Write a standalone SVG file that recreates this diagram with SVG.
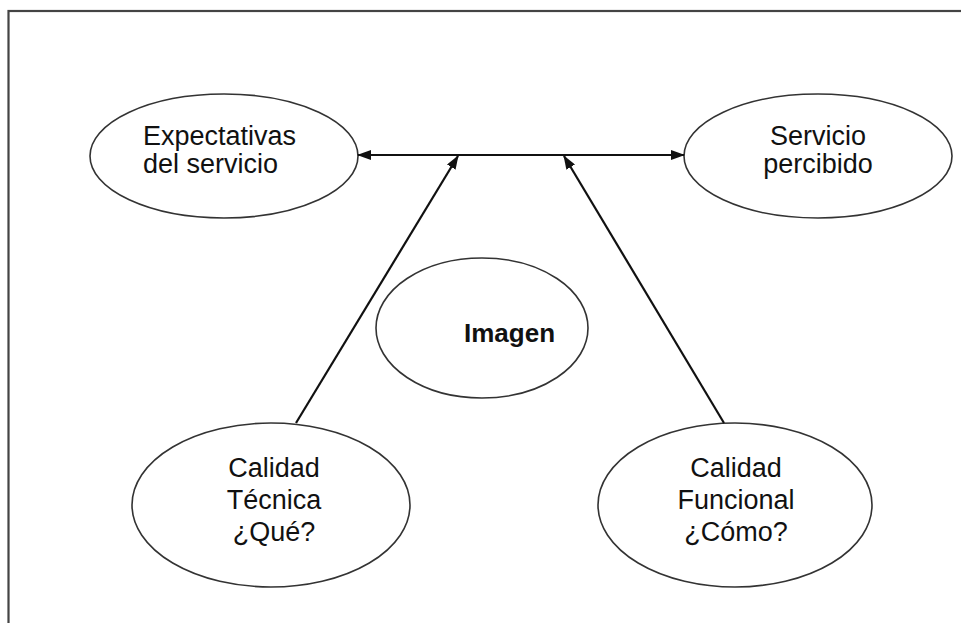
<svg xmlns="http://www.w3.org/2000/svg" width="961" height="623" viewBox="0 0 961 623">
<defs>
<style>
.node ellipse{fill:#fff;stroke:#333;stroke-width:1.6}
text{font-family:"Liberation Sans",Arial,sans-serif;font-size:27px;fill:#111}
.c{text-anchor:middle}
.b{font-weight:bold;font-size:26px}
.con line{stroke:#111;stroke-width:2.2}
</style>
<marker id="ah" viewBox="0 0 14 10" refX="13" refY="5" markerWidth="14" markerHeight="10" markerUnits="userSpaceOnUse" orient="auto-start-reverse">
<path d="M0,0 L14,5 L0,10 z" fill="#111"/>
</marker>
</defs>
<rect width="961" height="623" fill="#fff"/>
<rect x="8.5" y="11" width="980" height="640" fill="none" stroke="#444" stroke-width="2.2"/>
<g id="n-expectativas" class="node">
<ellipse cx="224" cy="156" rx="134" ry="62"/>
<text x="143" y="145">Expectativas</text>
<text x="143" y="173">del servicio</text>
</g>
<g id="n-servicio" class="node">
<ellipse cx="818" cy="156" rx="134" ry="62"/>
<text class="c" x="818" y="145">Servicio</text>
<text class="c" x="818" y="173">percibido</text>
</g>
<g id="n-imagen" class="node">
<ellipse cx="482" cy="328" rx="106" ry="70"/>
<text class="b" x="464" y="342">Imagen</text>
</g>
<g id="n-tecnica" class="node">
<ellipse cx="271" cy="505" rx="139" ry="82"/>
<text class="c" x="274" y="477">Calidad</text>
<text class="c" x="274" y="509">Técnica</text>
<text class="c" x="274" y="541">¿Qué?</text>
</g>
<g id="n-funcional" class="node">
<ellipse cx="735" cy="505" rx="137" ry="82"/>
<text class="c" x="736" y="477">Calidad</text>
<text class="c" x="736" y="509">Funcional</text>
<text class="c" x="736" y="541">¿Cómo?</text>
</g>
<g id="connectors" class="con">
<line x1="358" y1="155" x2="684" y2="155" marker-start="url(#ah)" marker-end="url(#ah)"/>
<line x1="296" y1="423" x2="458" y2="156" marker-end="url(#ah)"/>
<line x1="724" y1="423" x2="564" y2="156" marker-end="url(#ah)"/>
</g>
</svg>
